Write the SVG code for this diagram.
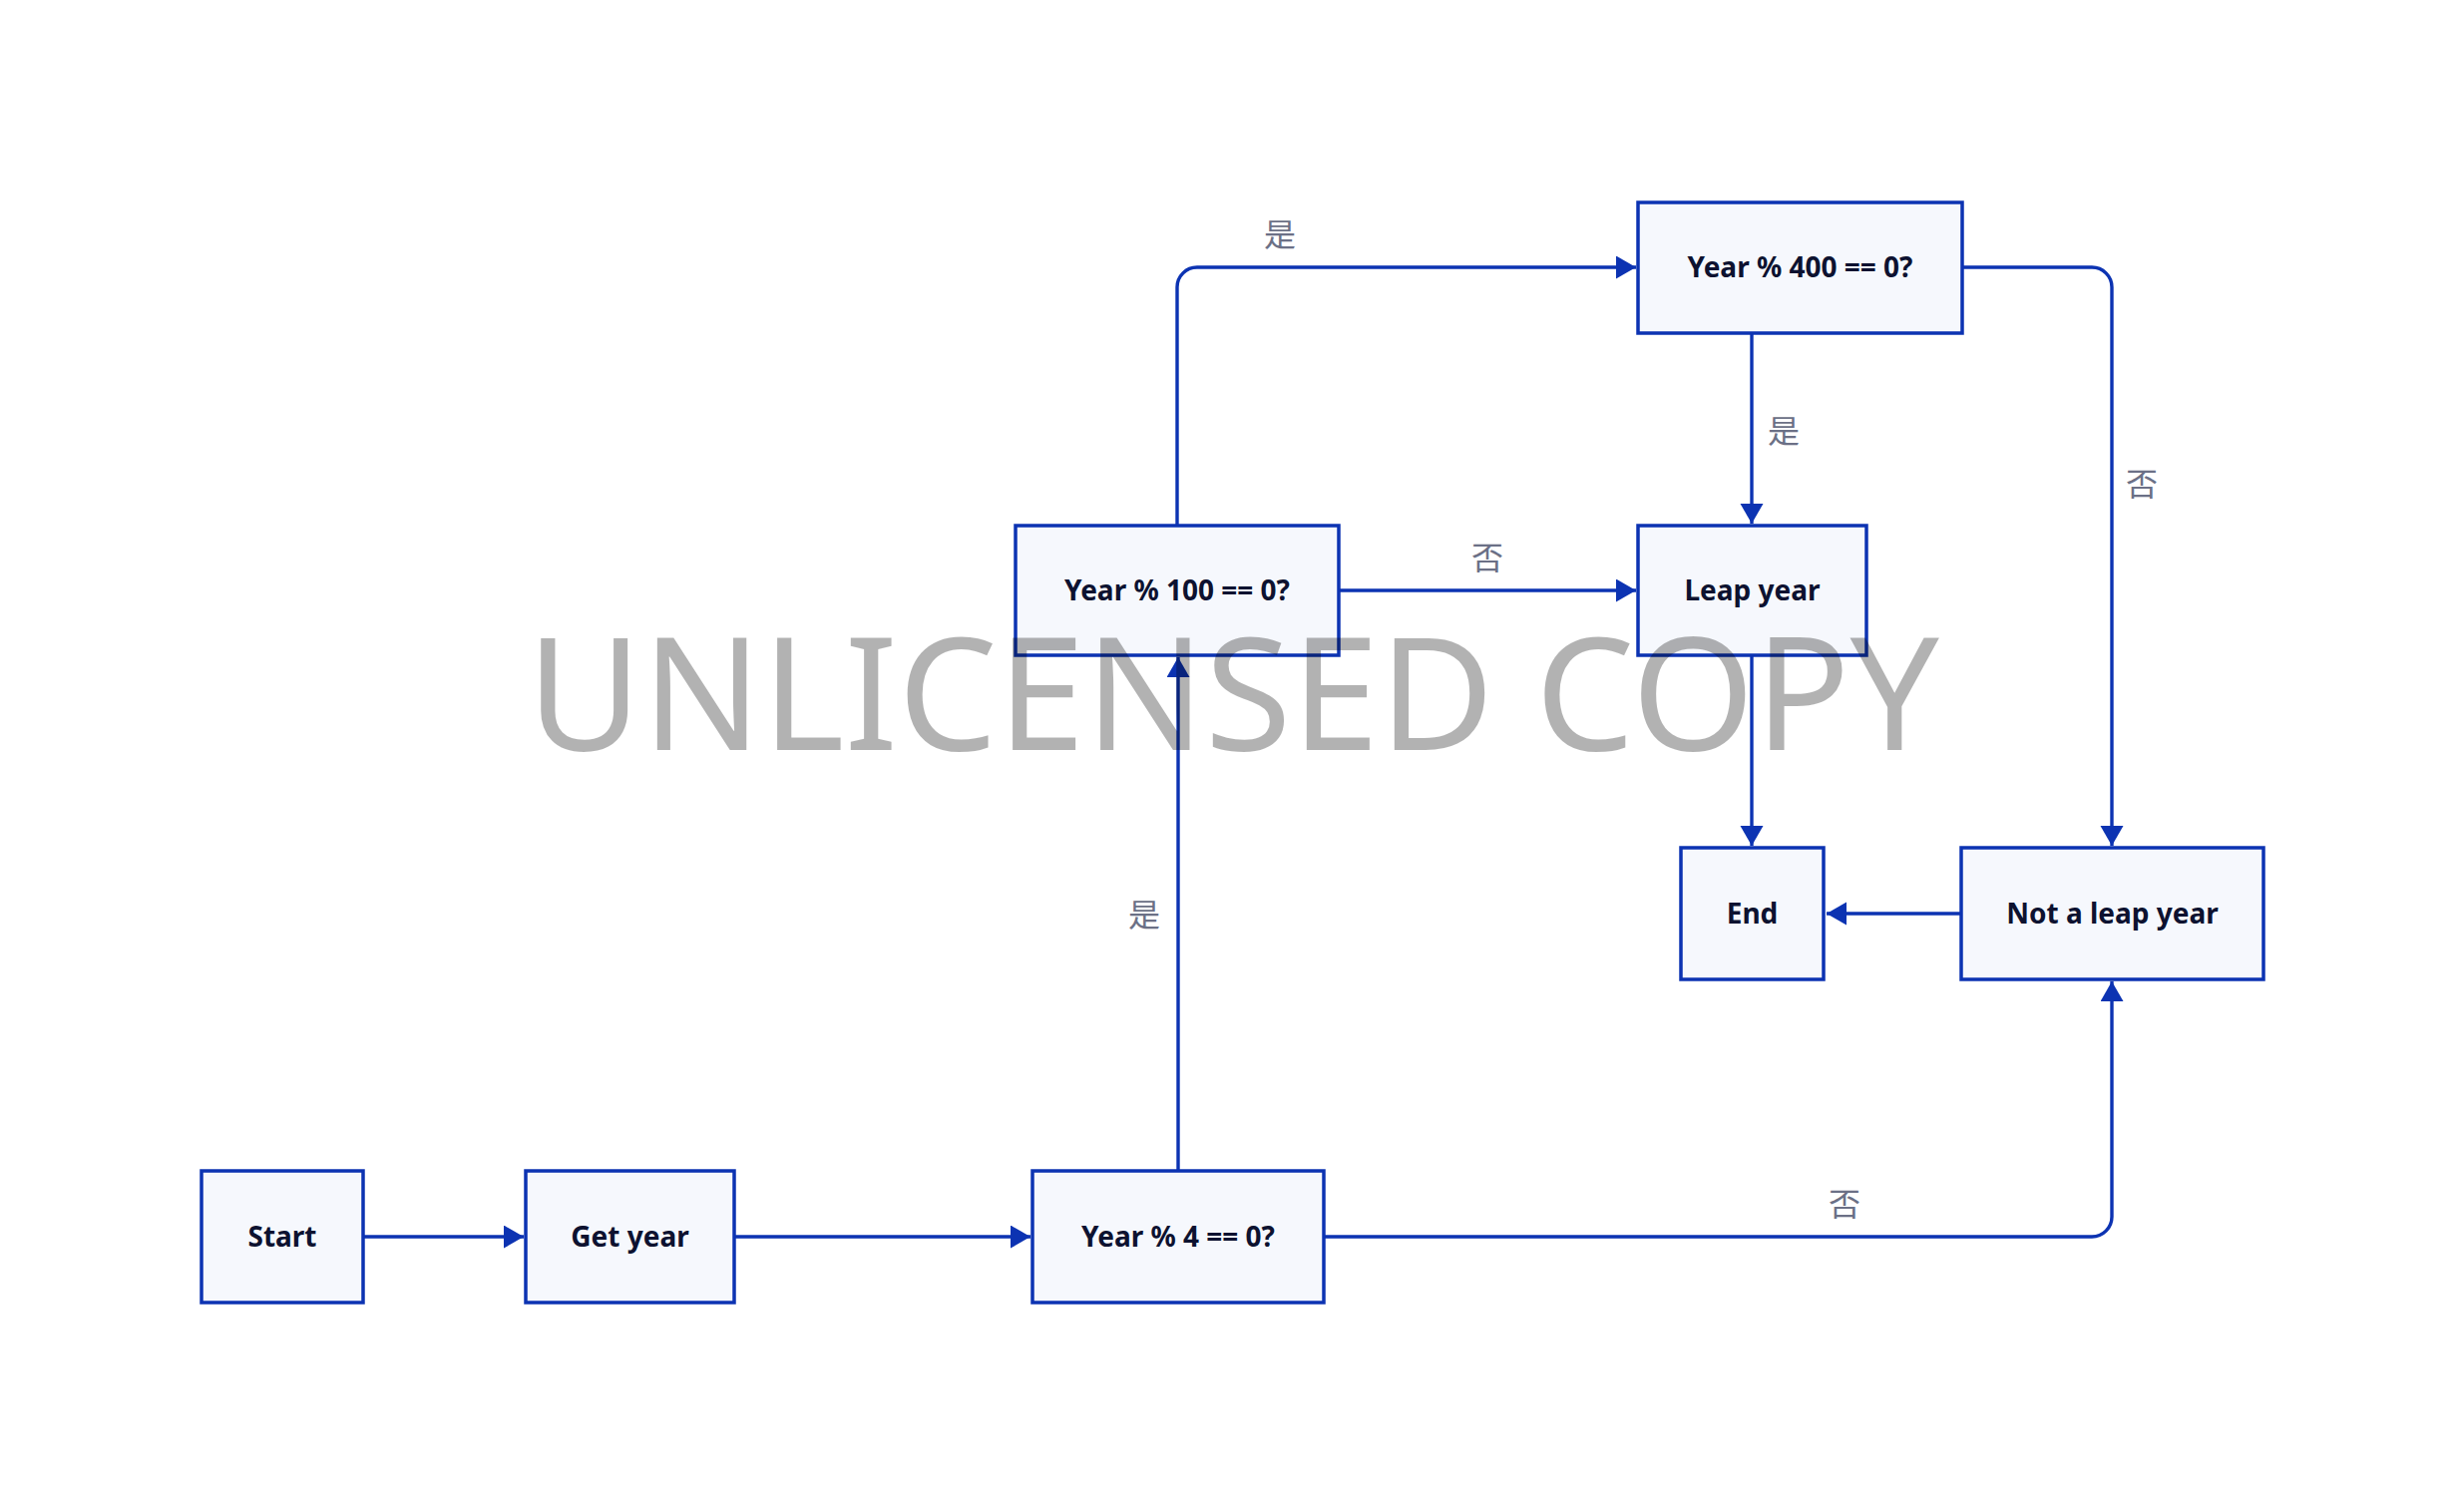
<svg xmlns="http://www.w3.org/2000/svg" width="2470" height="1508" viewBox="0 0 2470 1508">
<style>
.box{fill:#f6f8fd;stroke:#0c33b2;stroke-width:3.5}
.lbl{font-family:"Noto Sans","Liberation Sans",sans-serif;font-weight:700;font-size:28px;fill:#0d1230;text-anchor:middle}
.edge{fill:none;stroke:#0c33b2;stroke-width:3.4}
.el{font-family:"Noto Sans CJK SC","Noto Sans",sans-serif;font-size:32px;fill:#6b7086;text-anchor:middle}
.wm{font-family:"Noto Sans","Open Sans","Liberation Sans",sans-serif;font-size:158px;fill:#000;fill-opacity:0.3;text-anchor:middle}
</style>
<defs>
<marker id="arr" markerUnits="userSpaceOnUse" markerWidth="22" markerHeight="24" refX="20" refY="11.5" orient="auto">
<path d="M0,0 L20,11.5 L0,23 z" fill="#0c33b2"/>
</marker>
</defs>
<rect width="2470" height="1508" fill="#fff"/>
<g id="connectors">
<path class="edge" d="M364 1240 H525" marker-end="url(#arr)"/>
<path class="edge" d="M736 1240 H1033" marker-end="url(#arr)"/>
<path class="edge" d="M1181 1174 V659" marker-end="url(#arr)"/>
<path class="edge" d="M1327 1240 H2097 A20 20 0 0 0 2117 1220 V984" marker-end="url(#arr)"/>
<path class="edge" d="M1180 527 V288 A20 20 0 0 1 1200 268 H1640" marker-end="url(#arr)"/>
<path class="edge" d="M1342 592 H1640" marker-end="url(#arr)"/>
<path class="edge" d="M1756 334 V525" marker-end="url(#arr)"/>
<path class="edge" d="M1967 268 H2097 A20 20 0 0 1 2117 288 V848" marker-end="url(#arr)"/>
<path class="edge" d="M1756 657 V848" marker-end="url(#arr)"/>
<path class="edge" d="M1966 916 H1831" marker-end="url(#arr)"/>
<text class="el" x="1147" y="929">是</text>
<text class="el" x="1849" y="1219">否</text>
<text class="el" x="1283" y="247">是</text>
<text class="el" x="1491" y="571">否</text>
<text class="el" x="1788" y="444">是</text>
<text class="el" x="2147" y="497">否</text>
</g>
<g id="start"><rect class="box" x="202" y="1174" width="162" height="132"/><text class="lbl" x="283" y="1250">Start</text></g>
<g id="getyear"><rect class="box" x="527" y="1174" width="209" height="132"/><text class="lbl" x="631.5" y="1250">Get year</text></g>
<g id="mod4"><rect class="box" x="1035" y="1174" width="292" height="132"/><text class="lbl" x="1181" y="1250">Year % 4 == 0?</text></g>
<g id="mod100"><rect class="box" x="1018" y="527" width="324" height="130"/><text class="lbl" x="1180" y="602">Year % 100 == 0?</text></g>
<g id="leap"><rect class="box" x="1642" y="527" width="229" height="130"/><text class="lbl" x="1756.5" y="602">Leap year</text></g>
<g id="mod400"><rect class="box" x="1642" y="203" width="325" height="131"/><text class="lbl" x="1804.5" y="278">Year % 400 == 0?</text></g>
<g id="end"><rect class="box" x="1685" y="850" width="143" height="132"/><text class="lbl" x="1756.5" y="926">End</text></g>
<g id="notleap"><rect class="box" x="1966" y="850" width="303" height="132"/><text class="lbl" x="2117.5" y="926">Not a leap year</text></g>
<text class="wm" x="1236" y="752">UNLICENSED COPY</text>
</svg>
